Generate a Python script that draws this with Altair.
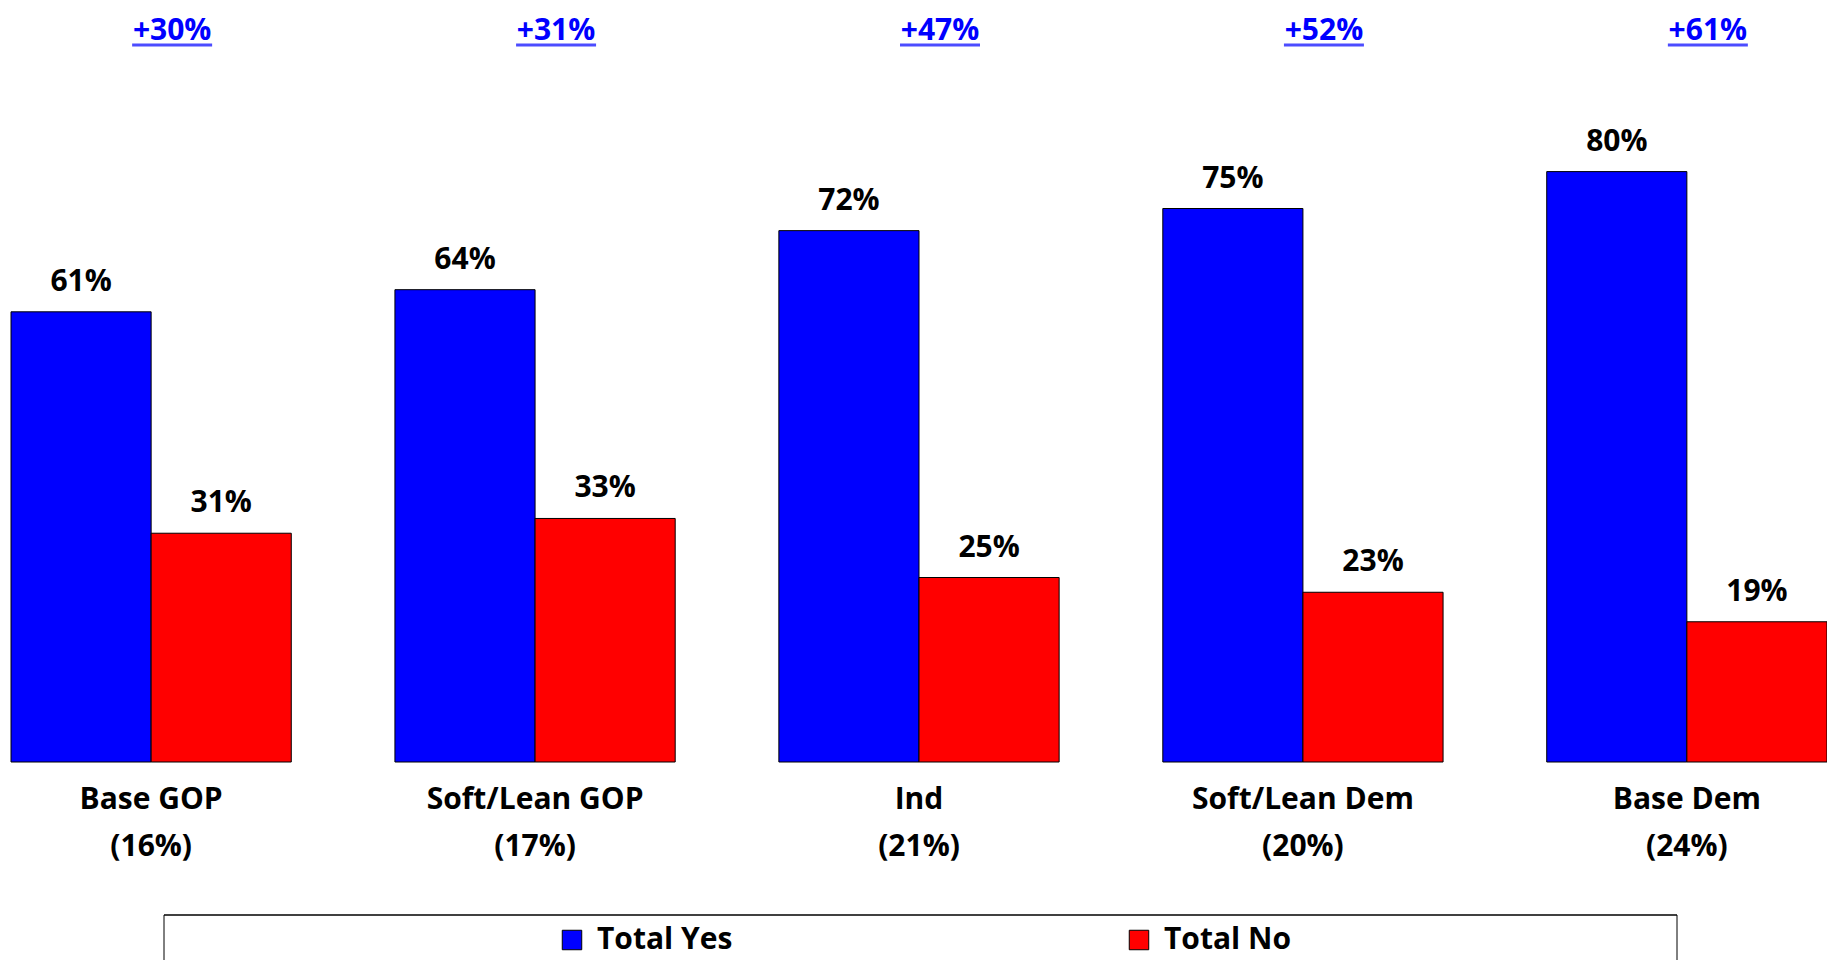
import altair as alt
import pandas as pd

groups = ["Base GOP", "Soft/Lean GOP", "Ind", "Soft/Lean Dem", "Base Dem"]
shares = ["16%", "17%", "21%", "20%", "24%"]
yes_vals = [61, 64, 72, 75, 80]
no_vals = [31, 33, 25, 23, 19]
gap_labels = ["+30%", "+31%", "+47%", "+52%", "+61%"]
series = ["Total Yes", "Total No"]
colors = ["#0000FF", "#FF0000"]

cats = [f"{g}\n({s})" for g, s in zip(groups, shares)]

rows = []
for c, y, n in zip(cats, yes_vals, no_vals):
    rows.append({"cat": c, "series": "Total Yes", "value": y})
    rows.append({"cat": c, "series": "Total No", "value": n})
df = pd.DataFrame(rows)
df["label"] = df["value"].astype(str) + "%"

gap_df = pd.DataFrame({"cat": cats, "gap": gap_labels})
dummy = pd.DataFrame({"a": [0]})

FONT = "Open Sans"
FS = 30

x_enc = alt.X(
    "cat:N",
    sort=cats,
    scale=alt.Scale(paddingInner=0.27, paddingOuter=0),
    axis=alt.Axis(
        title=None, domain=False, ticks=False, labelAngle=0,
        labelExpr="split(datum.value, '\\n')",
        labelFont=FONT, labelFontSize=FS, labelFontWeight="bold",
        labelColor="black", labelPadding=22, labelLineHeight=47,
        labelBaseline="top", labelLimit=0, labelOverlap=False,
    ),
)
y_enc = alt.Y("value:Q", scale=alt.Scale(domain=[0, 100], nice=False, zero=True), axis=None)
xoff = alt.XOffset("series:N", sort=series, scale=alt.Scale(paddingInner=0, paddingOuter=0))

bars = alt.Chart(df).mark_bar(stroke="black", strokeWidth=1).encode(
    x=x_enc,
    y=y_enc,
    xOffset=xoff,
    color=alt.Color(
        "series:N",
        sort=series,
        scale=alt.Scale(domain=series, range=colors),
        legend=alt.Legend(
            title=None, orient="none", legendX=546, legendY=901,
            direction="horizontal", padding=0,
            symbolType="square", symbolSize=380,
            symbolStrokeColor="black", symbolStrokeWidth=1,
            labelFont=FONT, labelFontSize=FS, labelFontWeight="bold",
            labelColor="black", labelOffset=10, columnPadding=391,
        ),
    ),
)

bar_text = alt.Chart(df).mark_text(
    font=FONT, fontSize=FS, fontWeight="bold", color="black",
    baseline="alphabetic", dy=-21,
).encode(x=x_enc, y=y_enc, xOffset=xoff, text="label:N")

top_text = alt.Chart(gap_df).mark_text(
    font=FONT, fontSize=FS, fontWeight="bold", color="#0000FF",
    baseline="alphabetic", dx=21,
).encode(x=x_enc, y=alt.value(16), text="gap:N")

underline = alt.Chart(gap_df).mark_tick(
    orient="horizontal", size=80, thickness=3, color="#0000FF", xOffset=21,
).encode(x=x_enc, y=alt.value(21))

box_top = alt.Chart(dummy).mark_rule(color="black", strokeWidth=1.5).encode(
    x=alt.value(153), x2=alt.value(1666), y=alt.value(891)
)
box_left = alt.Chart(dummy).mark_rule(color="black", strokeWidth=1).encode(
    x=alt.value(153), y=alt.value(891), y2=alt.value(1000)
)
box_right = alt.Chart(dummy).mark_rule(color="black", strokeWidth=1).encode(
    x=alt.value(1666), y=alt.value(891), y2=alt.value(1000)
)

chart = alt.layer(bars, bar_text, top_text, underline, box_top, box_left, box_right).properties(
    width=1816,
    height=738,
    padding={"left": 3, "top": 16, "right": 0, "bottom": 198},
    autosize=alt.AutoSizeParams(type="none"),
    background="white",
).configure_view(stroke=None)

chart.save("out.html", embed_options={"renderer": "svg", "actions": False})
